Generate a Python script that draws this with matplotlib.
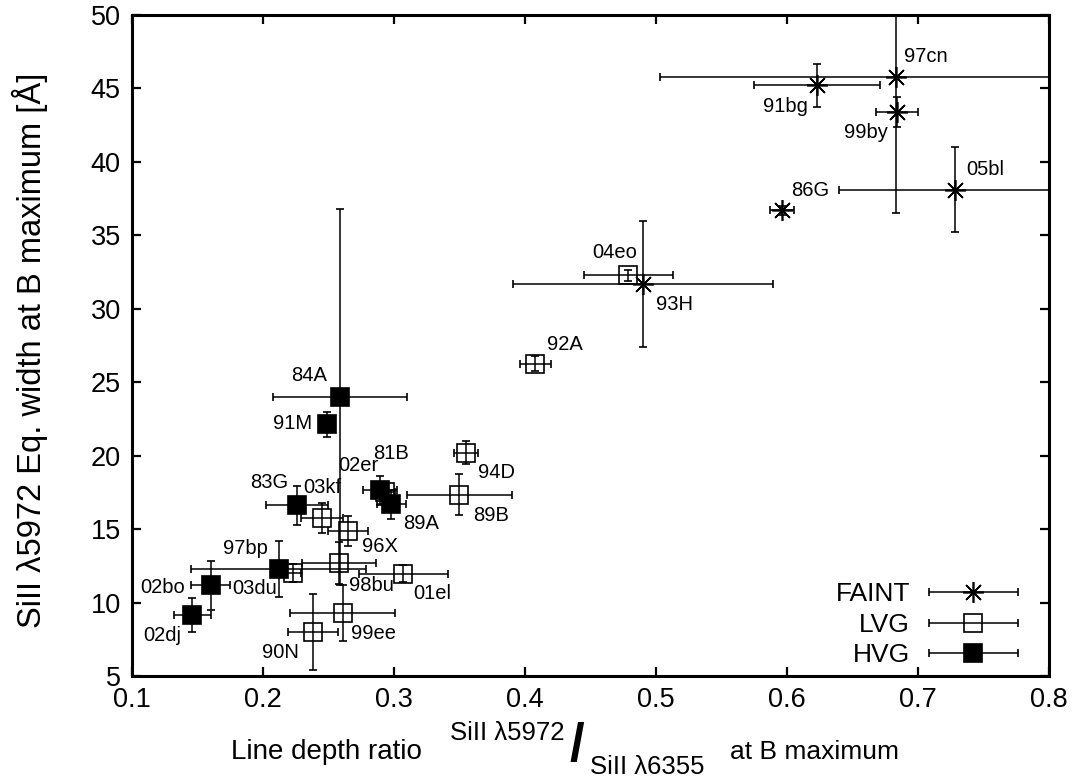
import matplotlib
matplotlib.use('Agg')
import matplotlib.pyplot as plt
from matplotlib.container import ErrorbarContainer
from matplotlib.legend_handler import HandlerErrorbar

plt.rcParams['font.family'] = ['Liberation Sans', 'DejaVu Sans']

# FAINT
faint_names = ['97cn', '91bg', '99by', '05bl', '86G', '93H']
faint_x = [0.683, 0.623, 0.684, 0.728, 0.596, 0.490]
faint_xerr = [0.180, 0.048, 0.016, 0.088, 0.009, 0.099]
faint_y = [45.8, 45.2, 43.4, 38.1, 36.7, 31.7]
faint_yerr = [9.3, 1.46, 1.0, 2.9, 0.3, 4.3]

# LVG
lvg_names = ['04eo', '92A', '94D', '89B', '81B', '03kf', '96X', '98bu', '03du', '01el', '99ee', '90N']
lvg_x = [0.479, 0.408, 0.355, 0.350, 0.293, 0.245, 0.265, 0.258, 0.223, 0.307, 0.261, 0.238]
lvg_xerr = [0.034, 0.012, 0.009, 0.040, 0.008, 0.016, 0.015, 0.028, 0.006, 0.034, 0.040, 0.019]
lvg_y = [32.27, 26.27, 20.2, 17.35, 17.55, 15.76, 14.87, 12.69, 12.0, 11.97, 9.3, 7.99]
lvg_yerr = [0.4, 0.5, 0.8, 1.42, 0.6, 1.0, 1.0, 1.45, 0.6, 0.6, 1.9, 2.6]

# HVG
hvg_names = ['84A', '91M', '02er', '89A', '83G', '97bp', '02bo', '02dj']
hvg_x = [0.259, 0.249, 0.289, 0.298, 0.226, 0.212, 0.160, 0.146]
hvg_xerr = [0.051, 0.005, 0.013, 0.011, 0.024, 0.067, 0.015, 0.014]
hvg_y = [24.0, 22.12, 17.64, 16.69, 16.62, 12.28, 11.17, 9.17]
hvg_yerr = [12.8, 0.86, 1.0, 1.0, 1.33, 1.93, 1.65, 1.16]

# label offsets in pixels (dx, dy) and alignment
faint_lab = [(8, 20, 'left'), (-9, -21, 'right'), (-9, -21, 'right'),
             (12, 20, 'left'), (9, 20, 'left'), (13, -21, 'left')]
lvg_lab = [(-14, 23, 'center'), (12, 19, 'left'), (12, -20, 'left'), (14, -21, 'left'),
           (-12, 38, 'left'), (-19, 30, 'left'), (14, -16, 'left'), (10, -22, 'left'),
           (-16, -15, 'right'), (10, -20, 'left'), (8, -21, 'left'), (-14, -20, 'right')]
hvg_lab = [(-13, 21, 'right'), (-15, 1, 'right'), (-1, 25, 'right'), (12, -19, 'left'),
           (-9, 23, 'right'), (-11, 21, 'right'), (-26, -2, 'right'), (-11, -21, 'right')]

fig = plt.figure(figsize=(10.8, 7.83), dpi=100)
ax = fig.add_axes([0.1222, 0.1367, 0.8491, 0.8442])

common = dict(ecolor='black', elinewidth=1.1, capsize=3, capthick=1.1, linestyle='none')
eb_f = ax.errorbar(faint_x, faint_y, xerr=faint_xerr, yerr=faint_yerr,
                   marker=(8, 2, 0), ms=15, mec='black', mew=1.2, **common)
eb_l = ax.errorbar(lvg_x, lvg_y, xerr=lvg_xerr, yerr=lvg_yerr,
                   marker='s', ms=13.5, mfc='white', mec='black', mew=1.2, **common)
eb_l[0].set_markerfacecolor('none')
eb_h = ax.errorbar(hvg_x, hvg_y, xerr=hvg_xerr, yerr=hvg_yerr,
                   marker='s', ms=13.5, mfc='black', mec='black', mew=1.2, **common)

for names, xs, ys, labs in [(faint_names, faint_x, faint_y, faint_lab),
                            (lvg_names, lvg_x, lvg_y, lvg_lab),
                            (hvg_names, hvg_x, hvg_y, hvg_lab)]:
    for n, x, y, (dx, dy, ha) in zip(names, xs, ys, labs):
        ax.annotate(n, (x, y), xytext=(dx, dy), textcoords='offset pixels',
                    ha=ha, va='center', fontsize=14.5)

ax.set_xlim(0.1, 0.8)
ax.set_ylim(5, 50)
ax.set_xticks([0.1, 0.2, 0.3, 0.4, 0.5, 0.6, 0.7, 0.8])
ax.set_xticklabels(['0.1', '0.2', '0.3', '0.4', '0.5', '0.6', '0.7', '0.8'])
ax.set_yticks(range(5, 51, 5))
ax.tick_params(direction='in', length=6.5, width=1.6, labelsize=19.5, pad=8,
               top=True, right=True)
for s in ax.spines.values():
    s.set_linewidth(2.2)

# legend: horizontal error bar samples only
handles = [ErrorbarContainer(eb.lines, has_xerr=True, has_yerr=False, label=lab)
           for eb, lab in [(eb_f, 'FAINT'), (eb_l, 'LVG'), (eb_h, 'HVG')]]
ax.legend(handles=handles, loc='lower right', frameon=False, markerfirst=False,
          fontsize=19, handlelength=3.5, handletextpad=0.65, labelspacing=0.25,
          borderaxespad=0.0, bbox_to_anchor=(0.9794, -0.003),
          handler_map={ErrorbarContainer: HandlerErrorbar(xerr_size=1.7, numpoints=1)})

# axis labels
fig.text(30 / 1080, 1 - 350 / 783, 'SiII \u03bb5972 Eq. width at B maximum [\u00c5]',
         rotation=90, ha='center', va='center', fontsize=23.5)
fy = 1 - 752 / 783
fig.text(231 / 1080, fy, 'Line depth ratio', ha='left', va='center', fontsize=20)
fig.text(450 / 1080, 1 - 733 / 783, 'SiII \u03bb5972', ha='left', va='center', fontsize=18.5)
fig.text(577 / 1080, 1 - 747 / 783, '/', ha='center', va='center', fontsize=38, fontweight='bold')
fig.text(590 / 1080, 1 - 767 / 783, 'SiII \u03bb6355', ha='left', va='center', fontsize=18.5)
fig.text(730 / 1080, fy, 'at B maximum', ha='left', va='center', fontsize=19)

fig.savefig('out.png', dpi=100)
